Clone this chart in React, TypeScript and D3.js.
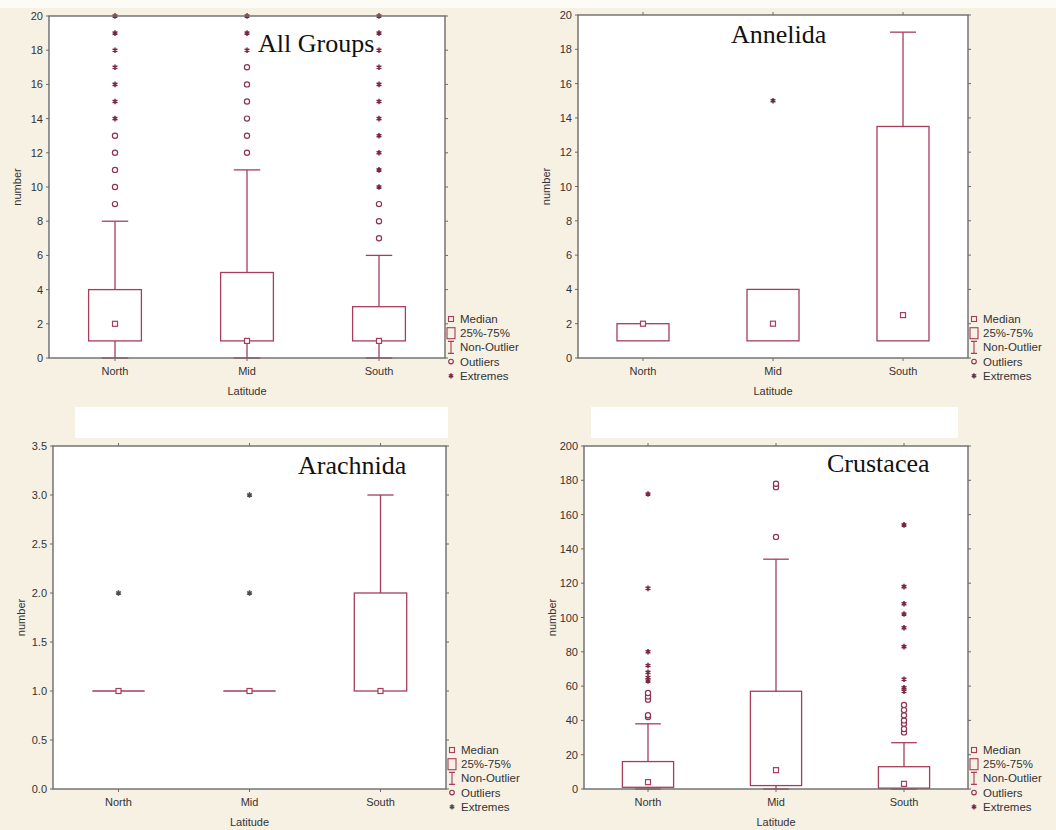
import React from "react";
import * as d3 from "d3";

// ---------- DATA ----------
const latitudes = ["North", "Mid", "South"];

// All Groups
const allQ1 = [1, 1, 1];
const allQ3 = [4, 5, 3];
const allMedian = [2, 1, 1];
const allWhiskerLow = [0, 0, 0];
const allWhiskerHigh = [8, 11, 6];
const allOutliers = [[9, 10, 11, 12, 13], [12, 13, 14, 15, 16, 17], [7, 8, 9]];
const allExtremes = [
  [14, 15, 16, 17, 18, 19, 20],
  [18, 19, 20],
  [10, 11, 12, 13, 14, 15, 16, 17, 18, 19, 20],
];
const allTicks = [0, 2, 4, 6, 8, 10, 12, 14, 16, 18, 20];

// Annelida
const annQ1 = [1, 1, 1];
const annQ3 = [2, 4, 13.5];
const annMedian = [2, 2, 2.5];
const annWhiskerLow = [1, 1, 1];
const annWhiskerHigh = [2, 4, 19];
const annOutliers: number[][] = [[], [], []];
const annExtremes = [[], [15], []];
const annTicks = [0, 2, 4, 6, 8, 10, 12, 14, 16, 18, 20];

// Arachnida
const araQ1 = [1, 1, 1];
const araQ3 = [1, 1, 2];
const araMedian = [1, 1, 1];
const araWhiskerLow = [1, 1, 1];
const araWhiskerHigh = [1, 1, 3];
const araOutliers: number[][] = [[], [], []];
const araExtremes = [[2], [2, 3], []];
const araTicks = [0, 0.5, 1, 1.5, 2, 2.5, 3, 3.5];

// Crustacea
const cruQ1 = [1, 2, 0.5];
const cruQ3 = [16, 57, 13];
const cruMedian = [4, 11, 3];
const cruWhiskerLow = [0, 0, 0];
const cruWhiskerHigh = [38, 134, 27];
const cruOutliers = [
  [42, 43, 52, 54, 56],
  [147, 176, 178],
  [33, 35, 38, 40, 43, 46, 49],
];
const cruExtremes = [
  [63, 65, 68, 72, 80, 117, 172],
  [],
  [57, 59, 64, 83, 94, 102, 108, 118, 154],
];
const cruTicks = [0, 20, 40, 60, 80, 100, 120, 140, 160, 180, 200];

const legendLabels = ["Median", "25%-75%", "Non-Outlier", "Outliers", "Extremes"];

// ---------- STYLE / LAYOUT ----------
const BOX = "#a63d5a";
const OUT = "#8c3350";
const SANS = "'Liberation Sans', Arial, sans-serif";
const SERIF = "'Liberation Serif', 'Times New Roman', serif";

type Panel = {
  title: string;
  titleX: number;
  titleY: number;
  left: number;
  top: number;
  right: number;
  bottom: number;
  domain: [number, number];
  ticks: number[];
  fmt: (v: number) => string;
  q1: number[];
  q3: number[];
  median: number[];
  wl: number[];
  wh: number[];
  outliers: number[][];
  extremes: number[][];
  extColor: string;
};

const panels: Panel[] = [
  {
    title: "All Groups", titleX: 258, titleY: 52,
    left: 49, top: 16, right: 445, bottom: 358,
    domain: [0, 20], ticks: allTicks, fmt: d3.format("d"),
    q1: allQ1, q3: allQ3, median: allMedian, wl: allWhiskerLow, wh: allWhiskerHigh,
    outliers: allOutliers, extremes: allExtremes, extColor: "#7a2444",
  },
  {
    title: "Annelida", titleX: 731, titleY: 43,
    left: 578, top: 15, right: 968, bottom: 358,
    domain: [0, 20], ticks: annTicks, fmt: d3.format("d"),
    q1: annQ1, q3: annQ3, median: annMedian, wl: annWhiskerLow, wh: annWhiskerHigh,
    outliers: annOutliers, extremes: annExtremes, extColor: "#5a3345",
  },
  {
    title: "Arachnida", titleX: 298, titleY: 474,
    left: 53, top: 446, right: 446, bottom: 789,
    domain: [0, 3.5], ticks: araTicks, fmt: d3.format(".1f"),
    q1: araQ1, q3: araQ3, median: araMedian, wl: araWhiskerLow, wh: araWhiskerHigh,
    outliers: araOutliers, extremes: araExtremes, extColor: "#4a4a4a",
  },
  {
    title: "Crustacea", titleX: 827, titleY: 472,
    left: 584, top: 446, right: 968, bottom: 789,
    domain: [0, 200], ticks: cruTicks, fmt: d3.format("d"),
    q1: cruQ1, q3: cruQ3, median: cruMedian, wl: cruWhiskerLow, wh: cruWhiskerHigh,
    outliers: cruOutliers, extremes: cruExtremes, extColor: "#7a2444",
  },
];

function starPath(cx: number, cy: number, r: number) {
  const p = d3.path();
  for (let i = 0; i < 3; i++) {
    const a = (Math.PI / 3) * i + Math.PI / 2;
    p.moveTo(cx + r * Math.cos(a), cy + r * Math.sin(a));
    p.lineTo(cx - r * Math.cos(a), cy - r * Math.sin(a));
  }
  return p.toString();
}

function PanelView({ p }: { p: Panel }) {
  const x = d3.scaleBand<string>().domain(latitudes).range([p.left, p.right]).padding(0);
  const y = d3.scaleLinear().domain(p.domain).range([p.bottom, p.top]);
  const bw = x.bandwidth() * 0.4;
  const cap = bw * 0.5;
  const midX = (p.left + p.right) / 2;
  const midY = (p.top + p.bottom) / 2;
  const lx = p.right + 6;
  const ly0 = p.bottom - 39;
  const lstep = 14.2;

  return (
    <g>
      <rect x={p.left} y={p.top} width={p.right - p.left} height={p.bottom - p.top} fill="#fff" />
      {/* boxes */}
      {latitudes.map((lat, i) => {
        const cx = (x(lat) as number) + x.bandwidth() / 2;
        const yq1 = y(p.q1[i]);
        const yq3 = y(p.q3[i]);
        return (
          <g key={lat}>
            {p.wh[i] > p.q3[i] && (
              <>
                <line x1={cx} x2={cx} y1={yq3} y2={y(p.wh[i])} stroke={BOX} strokeWidth={1.3} />
                <line x1={cx - cap / 2} x2={cx + cap / 2} y1={y(p.wh[i])} y2={y(p.wh[i])} stroke={BOX} strokeWidth={1.3} />
              </>
            )}
            {p.wl[i] < p.q1[i] && (
              <>
                <line x1={cx} x2={cx} y1={yq1} y2={y(p.wl[i])} stroke={BOX} strokeWidth={1.3} />
                <line x1={cx - cap / 2} x2={cx + cap / 2} y1={y(p.wl[i])} y2={y(p.wl[i])} stroke={BOX} strokeWidth={1.3} />
              </>
            )}
            {p.q3[i] > p.q1[i] ? (
              <rect x={cx - bw / 2} y={yq3} width={bw} height={yq1 - yq3} fill="none" stroke={BOX} strokeWidth={1.3} />
            ) : (
              <line x1={cx - bw / 2} x2={cx + bw / 2} y1={yq1} y2={yq1} stroke={BOX} strokeWidth={1.3} />
            )}
            <rect x={cx - 2.5} y={y(p.median[i]) - 2.5} width={5} height={5} fill="#fff" stroke={BOX} strokeWidth={1.2} />
            {p.outliers[i].map((v, j) => (
              <circle key={"o" + j} cx={cx} cy={y(v)} r={2.6} fill="#fff" stroke={OUT} strokeWidth={1.2} />
            ))}
            {p.extremes[i].map((v, j) => (
              <path key={"e" + j} d={starPath(cx, y(v), 2.8)} stroke={p.extColor} strokeWidth={1.5} fill="none" />
            ))}
          </g>
        );
      })}
      {/* frame */}
      <rect x={p.left} y={p.top} width={p.right - p.left} height={p.bottom - p.top} fill="none" stroke="#6b6b6b" strokeWidth={1.4} />
      {/* y ticks */}
      {p.ticks.map((t) => (
        <g key={"t" + t}>
          <line x1={p.left - 3} x2={p.left} y1={y(t)} y2={y(t)} stroke="#6b6b6b" />
          <line x1={p.right} x2={p.right + 3} y1={y(t)} y2={y(t)} stroke="#6b6b6b" />
          <text x={p.left - 6} y={y(t) + 4} textAnchor="end" fontSize={11} fontFamily={SANS} fill="#333">
            {p.fmt(t)}
          </text>
        </g>
      ))}
      {/* x ticks and labels */}
      {latitudes.map((lat) => {
        const cx = (x(lat) as number) + x.bandwidth() / 2;
        return (
          <g key={"x" + lat}>
            <line x1={cx} x2={cx} y1={p.bottom} y2={p.bottom + 3} stroke="#6b6b6b" />
            <line x1={cx} x2={cx} y1={p.top - 3} y2={p.top} stroke="#6b6b6b" />
            <text x={cx} y={p.bottom + 17} textAnchor="middle" fontSize={11} fontFamily={SANS} fill="#333">
              {lat}
            </text>
          </g>
        );
      })}
      <text x={midX} y={p.bottom + 37} textAnchor="middle" fontSize={11} fontFamily={SANS} fill="#333">
        Latitude
      </text>
      <text
        transform={`translate(${p.left - 28},${midY}) rotate(-90)`}
        textAnchor="middle"
        fontSize={11}
        fontFamily={SANS}
        fill="#333"
      >
        number
      </text>
      {/* title */}
      <text x={p.titleX} y={p.titleY} fontSize={26} fontFamily={SERIF} fill="#111">
        {p.title}
      </text>
      {/* legend */}
      {legendLabels.map((lab, k) => {
        const yy = ly0 + k * lstep;
        let marker: React.ReactNode = null;
        if (k === 0) marker = <rect x={lx - 2.5} y={yy - 2.5} width={5} height={5} fill="none" stroke={BOX} strokeWidth={1.1} />;
        if (k === 1) marker = <rect x={lx - 4} y={yy - 5.5} width={8} height={11} fill="none" stroke={BOX} strokeWidth={1.1} />;
        if (k === 2)
          marker = (
            <path d={`M${lx - 3},${yy - 6}H${lx + 3}M${lx},${yy - 6}V${yy + 6}M${lx - 3},${yy + 6}H${lx + 3}`} stroke={BOX} strokeWidth={1.1} fill="none" />
          );
        if (k === 3) marker = <circle cx={lx} cy={yy} r={2.3} fill="none" stroke={OUT} strokeWidth={1.1} />;
        if (k === 4) marker = <path d={starPath(lx, yy, 2.6)} stroke={p.extColor} strokeWidth={1.4} fill="none" />;
        return (
          <g key={lab}>
            {marker}
            <text x={lx + 9} y={yy + 4} fontSize={11.5} fontFamily={SANS} fill="#333">
              {lab}
            </text>
          </g>
        );
      })}
    </g>
  );
}

export default function App() {
  return (
    <svg
      width={1056}
      height={830}
      style={{ position: "absolute", left: 0, top: 0, display: "block" }}
    >
      <rect x={0} y={0} width={1056} height={830} fill="#f7f1e4" />
      <rect x={0} y={0} width={1056} height={8} fill="#fdfbf6" />
      <rect x={75} y={407} width={373} height={31} fill="#fff" />
      <rect x={591} y={407} width={367} height={31} fill="#fff" />
      <defs>
        <clipPath id="leftHalf">
          <rect x={0} y={0} width={524} height={830} />
        </clipPath>
      </defs>
      <g clipPath="url(#leftHalf)">
        <PanelView p={panels[0]} />
        <PanelView p={panels[2]} />
      </g>
      <PanelView p={panels[1]} />
      <PanelView p={panels[3]} />
    </svg>
  );
}
